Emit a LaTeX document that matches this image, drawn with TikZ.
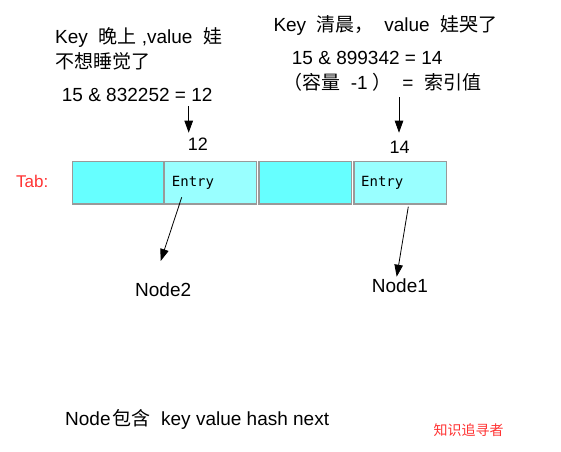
\documentclass[tikz,border=0pt]{standalone}
\usepackage{fontspec}
\setmainfont{Liberation Sans}
\newfontfamily\cjk{Noto Sans CJK SC}
\newfontfamily\entryfont{DejaVu Sans Mono}
\usetikzlibrary{arrows.meta}
\definecolor{cellA}{RGB}{102,255,255}
\definecolor{cellB}{RGB}{153,255,255}
\definecolor{cellborder}{RGB}{153,153,153}
\definecolor{redtxt}{RGB}{255,51,51}
\begin{document}
\begin{tikzpicture}[x=1pt,y=-1pt,
  txt/.style={anchor=base west, inner sep=0pt, font=\fontsize{19}{22}\selectfont},
  numtxt/.style={anchor=base west, inner sep=0pt, font=\fontsize{18}{22}\selectfont},
  cellbox/.style={anchor=north west, draw=cellborder, line width=1.5pt, inner sep=0pt, minimum height=42.6pt},
  entrytxt/.style={anchor=base west, inner sep=0pt, font=\entryfont\fontsize{14}{16}\selectfont},
  arr/.style={line width=0.8pt, -{Triangle[length=12pt,width=8.5pt]}}
]
\useasboundingbox (0,0) rectangle (561,451);
% texts top
\node[txt] (t1) at (55,43.5) {Key\ \ {\cjk 晚上} ,value\ \ {\cjk 娃}};
\node[txt] (t2) at (55,68) {\cjk 不想睡觉了};
\node[txt] (t3) at (61.7,101.7) {15 \& 832252 = 12};
\node[txt] (t4) at (273.3,31.7) {Key\ \ {\cjk 清晨，}\ \ value\ \ {\cjk 娃哭了}};
\node[txt] (t5) at (291.7,64) {15 \& 899342 = 14};
\node[txt] (t6) at (283,89.3) {{\cjk （容量}\ \ -1 {\cjk ）}\ \ =\ \ {\cjk 索引值}};
% index labels
\node[numtxt] (n12) at (187.7,150.7) {12};
\node[numtxt] (n14) at (389.3,153.3) {14};
% Tab label
\node[anchor=base west, inner sep=0pt, font=\fontsize{17}{20}\selectfont, text=redtxt] (tab) at (16,187.7) {Tab:};
% cells
\node[cellbox, fill=cellA, minimum width=91.6pt] (b1) at (71.7,160.7) {};
\node[cellbox, fill=cellB, minimum width=92.4pt] (b2) at (163.3,160.7) {};
\node[cellbox, fill=cellA, minimum width=92.4pt] (b3) at (258.3,160.7) {};
\node[cellbox, fill=cellB, minimum width=92.4pt] (b4) at (353.3,160.7) {};
\node[entrytxt] (e1) at (171.7,186.7) {Entry};
\node[entrytxt] (e2) at (361,186.7) {Entry};
% node labels
\node[txt] (node2) at (135,296) {Node2};
\node[txt] (node1) at (371.7,292.7) {Node1};
% arrows
\coordinate (a1s) at (188.7,106);
\coordinate (a1e) at (188.7,132.7);
\coordinate (a2s) at (399,97);
\coordinate (a2e) at (399,132.7);
\coordinate (a3s) at (181.7,197.3);
\coordinate (a3e) at (160.7,261);
\coordinate (a4s) at (408.3,206.7);
\coordinate (a4e) at (396.7,276.7);
\draw[arr] (a1s) -- (a1e);
\draw[arr] (a2s) -- (a2e);
\draw[arr] (a3s) -- (a3e);
\draw[arr] (a4s) -- (a4e);
% bottom
\node[txt] (bottom) at (65,425.7) {Node\kern2pt{\cjk 包含}\ \ key value hash next};
\node[anchor=base west, inner sep=0pt, font=\cjk\fontsize{14}{16}\selectfont, text=redtxt] (wm) at (433.3,435) {知识追寻者};
\end{tikzpicture}
\end{document}
